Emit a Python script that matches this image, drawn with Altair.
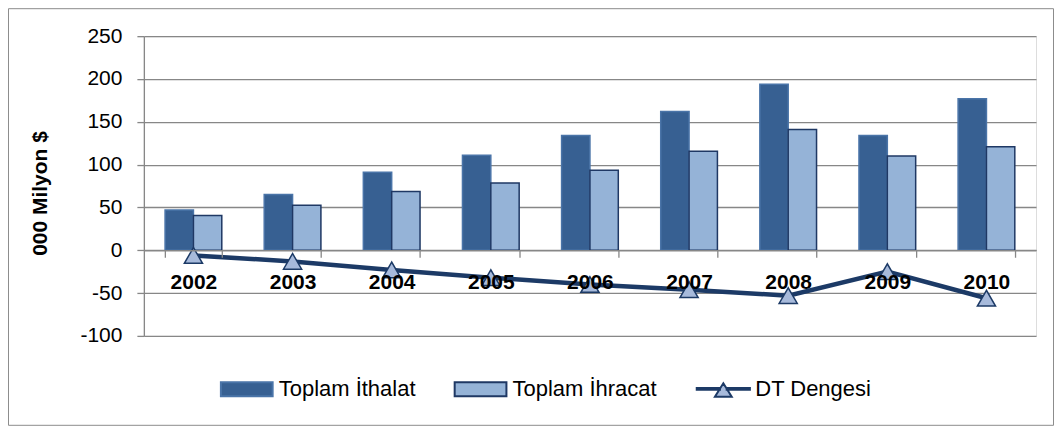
import altair as alt
import pandas as pd

# ---- data ----
years = ["2002", "2003", "2004", "2005", "2006", "2007", "2008", "2009", "2010"]
imports = [47, 65, 91, 111, 134, 162, 194, 134, 177]          # Toplam İthalat
exports = [40.5, 52.5, 68.5, 78.5, 93.5, 115.5, 141, 110, 121]  # Toplam İhracat
balance = [-6, -13, -23, -32, -40, -46, -53, -25, -56]          # DT Dengesi
series = ["Toplam İthalat", "Toplam İhracat", "DT Dengesi"]
y_ticks = [-100, -50, 0, 50, 100, 150, 200, 250]
y_domain = [-100, 250]

# ---- styling ----
FONT = "Liberation Sans"
DARK = "#376092"
LIGHT = "#95B3D7"
OUTLINE = "#1F3864"
LINE = "#1C3A66"
TRI = "#A7BADB"
GRID = "#878787"
FRAME = "#8C8C8C"

W, H = 893, 300

bars_df = pd.DataFrame(
    [{"year": y, "series": series[0], "value": v} for y, v in zip(years, imports)]
    + [{"year": y, "series": series[1], "value": v} for y, v in zip(years, exports)]
)
bal_df = pd.DataFrame({"year": years, "value": balance, "series": series[2]})
leg_df = pd.DataFrame({"series": series})

fill_scale = alt.Scale(domain=series, range=[DARK, LIGHT, TRI])
stroke_scale = alt.Scale(domain=series, range=["#4A74A8", OUTLINE, LINE])
# custom legend symbols (unit coordinates): wide swatches and a line with a triangle
bar_path = "M-0.925,-0.25 L0.925,-0.25 L0.925,0.25 L-0.925,0.25 Z"
dt_path = ("M-0.95,-0.03 L-0.12,-0.03 L-0.12,0.03 L-0.95,0.03 Z "
           "M0.12,-0.03 L0.95,-0.03 L0.95,0.03 L0.12,0.03 Z "
           "M0,-0.2 L0.3,0.28 L-0.3,0.28 Z")
shape_scale = alt.Scale(domain=series, range=[bar_path, bar_path, dt_path])

x_axis = alt.Axis(
    title=None, orient="bottom", offset=-H * 100 / 350, labelAngle=0,
    labelFont=FONT, labelFontWeight="bold", labelFontSize=21, labelColor="black",
    labelPadding=14, tickBand="extent", tickSize=7, tickColor=GRID, tickWidth=1.3,
    domainColor=GRID, domainWidth=1.3, grid=False, zindex=1,
)
y_axis = alt.Axis(
    title="000 Milyon $", values=y_ticks, labelExpr="'' + datum.value",
    labelFont=FONT, labelFontSize=21, labelColor="black", labelPadding=15,
    tickSize=7, tickColor=GRID, tickWidth=1.3, domainColor=GRID, domainWidth=1.3,
    grid=True, gridColor=GRID, gridWidth=1.3,
    titleFont=FONT, titleFontSize=21, titleFontWeight="bold", titleColor="black",
    titleAngle=270, titleX=-97, titleY=157, titleBaseline="alphabetic", titleAlign="center",
    zindex=0,
)
x_scale = alt.Scale(domain=years, paddingInner=0.428, paddingOuter=0.214)
y_scale = alt.Scale(domain=y_domain, nice=False, zero=False)

X = alt.X("year:N", sort=years, scale=x_scale, axis=x_axis)
Y = alt.Y("value:Q", scale=y_scale, axis=y_axis)

legend = alt.Legend(
    title=None, orient="none", legendX=74, legendY=324, direction="horizontal",
    labelFont=FONT, labelFontSize=22, labelColor="black", labelOffset=3,
    labelLimit=400, columnPadding=35, symbolSize=3136, symbolStrokeWidth=2,
    padding=0,
)

frame = alt.Chart(pd.DataFrame({"k": [0]})).mark_rect(
    filled=False, stroke=FRAME, strokeWidth=1
).encode(
    x=alt.value(8.5 - 144), x2=alt.value(1054.5 - 144),
    y=alt.value(8.5 - 36), y2=alt.value(425.5 - 36),
)

bars = alt.Chart(bars_df).mark_bar(strokeWidth=1.5).encode(
    x=X,
    xOffset=alt.XOffset("series:N", sort=series[:2],
                        scale=alt.Scale(domain=series[:2], paddingInner=0, paddingOuter=0)),
    y=Y,
    fill=alt.Fill("series:N", scale=fill_scale, legend=legend),
    stroke=alt.Stroke("series:N", scale=stroke_scale, legend=legend),
)

line = alt.Chart(bal_df).mark_line(color=LINE, strokeWidth=4.5).encode(x=X, y=Y)
points = alt.Chart(bal_df).mark_point(
    shape="triangle-up", filled=True, fill=TRI, stroke=LINE, strokeWidth=1.5,
    size=330, opacity=1
).encode(x=X, y=Y)

legend_layer = alt.Chart(leg_df).transform_filter("false").mark_point(
    filled=True, strokeWidth=2, opacity=1
).encode(
    fill=alt.Fill("series:N", scale=fill_scale, legend=legend),
    stroke=alt.Stroke("series:N", scale=stroke_scale, legend=legend),
    shape=alt.Shape("series:N", scale=shape_scale, legend=legend),
)

chart = alt.layer(frame, bars, line, points, legend_layer).properties(
    width=W, height=H,
    padding={"left": 136, "top": 28, "right": 18, "bottom": 90},
    autosize=alt.AutoSizeParams(type="none"),
).configure_view(stroke=None).configure(font=FONT)

chart.save("out.html", embed_options={"renderer": "svg", "actions": False})
